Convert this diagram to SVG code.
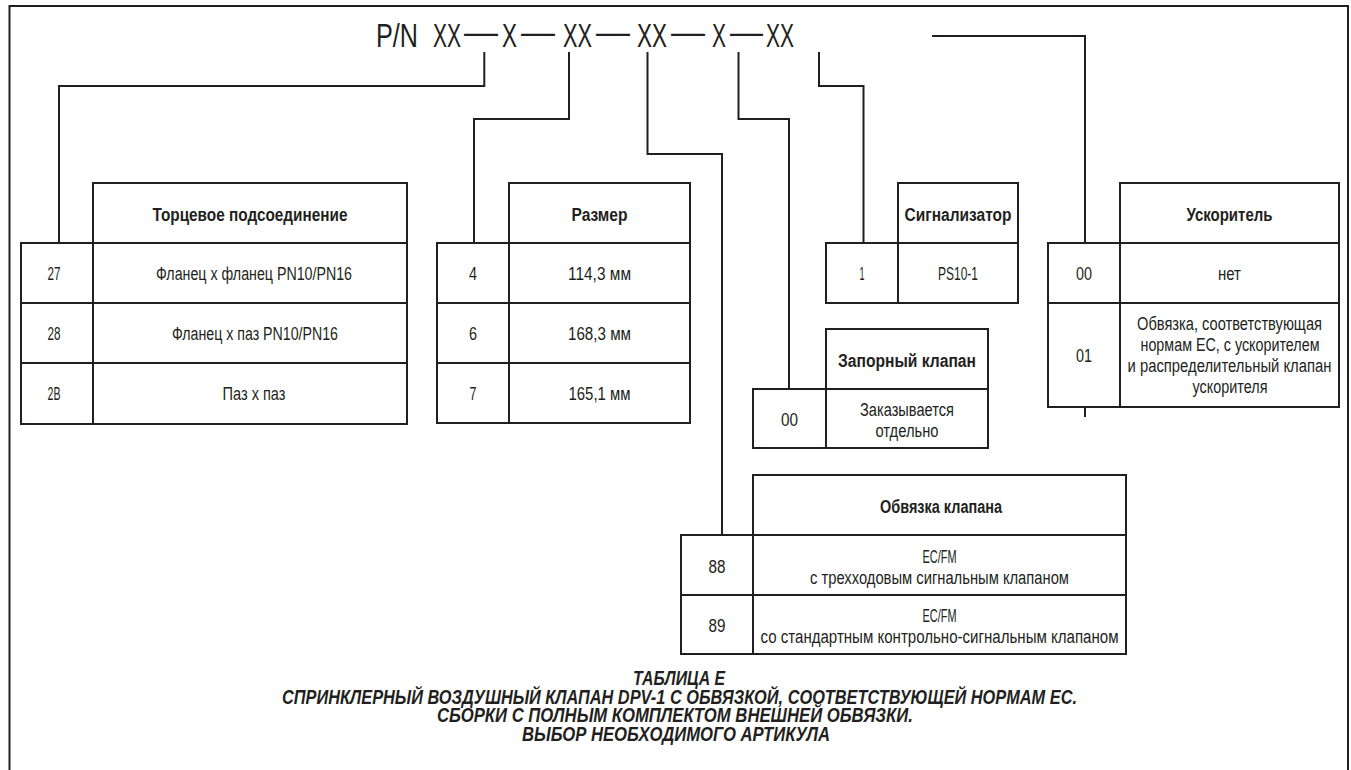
<svg xmlns="http://www.w3.org/2000/svg" width="1351" height="770" viewBox="0 0 1351 770">
<style>
.ln{stroke:#231f20;stroke-width:2;fill:none}
.bx{stroke:#231f20;stroke-width:2;fill:#fff}
.t{font-family:"Liberation Sans",Arial,sans-serif;font-size:18px;fill:#231f20;text-anchor:middle}
.b{font-weight:bold}
.pn{font-family:"Liberation Sans",Arial,sans-serif;font-size:34px;fill:#231f20}
.cap{font-family:"Liberation Sans",Arial,sans-serif;font-size:20px;font-weight:bold;font-style:italic;fill:#231f20;text-anchor:middle}
</style>
<rect x="0" y="0" width="1351" height="770" fill="#fff"/>
<g id="frame">
<path class="ln" d="M9.5,770 V6 H1348 V770"/>
</g>
<g id="partnumber">
<text class="pn" x="376" y="47" textLength="42" lengthAdjust="spacingAndGlyphs">P/N</text>
<text class="pn" x="433" y="47" textLength="28" lengthAdjust="spacingAndGlyphs">XX</text>
<text class="pn" x="464" y="43" textLength="34" lengthAdjust="spacingAndGlyphs">—</text>
<text class="pn" x="502" y="47" textLength="15" lengthAdjust="spacingAndGlyphs">X</text>
<text class="pn" x="521" y="43" textLength="34" lengthAdjust="spacingAndGlyphs">—</text>
<text class="pn" x="563" y="47" textLength="29" lengthAdjust="spacingAndGlyphs">XX</text>
<text class="pn" x="596" y="43" textLength="34" lengthAdjust="spacingAndGlyphs">—</text>
<text class="pn" x="637" y="47" textLength="30" lengthAdjust="spacingAndGlyphs">XX</text>
<text class="pn" x="671" y="43" textLength="34" lengthAdjust="spacingAndGlyphs">—</text>
<text class="pn" x="712" y="47" textLength="14" lengthAdjust="spacingAndGlyphs">X</text>
<text class="pn" x="730" y="43" textLength="33" lengthAdjust="spacingAndGlyphs">—</text>
<text class="pn" x="766" y="47" textLength="28" lengthAdjust="spacingAndGlyphs">XX</text>
</g>
<g id="connectors">
<path class="ln" d="M484.3,52 V86 H59 V243"/>
<path class="ln" d="M569,52 V119 H474 V243"/>
<path class="ln" d="M647.5,52 V154 H722 V535"/>
<path class="ln" d="M738.5,52 V119 H789 V389"/>
<path class="ln" d="M819,52 V86 H863.5 V243"/>
<path class="ln" d="M932,36 H1085 V243"/>
<path class="ln" d="M1085,407 V417"/>
</g>
<g id="table-end-connection">
<rect class="bx" x="93" y="183" width="314" height="60"/>
<rect class="bx" x="21" y="243" width="386" height="181"/>
<path class="ln" d="M93,243 V424 M21,303 H407 M21,363 H407"/>
<text class="t b" x="250" y="221" textLength="195" lengthAdjust="spacingAndGlyphs">Торцевое подсоединение</text>
<text class="t" x="54" y="280" textLength="13" lengthAdjust="spacingAndGlyphs">27</text>
<text class="t" x="254" y="280" textLength="196" lengthAdjust="spacingAndGlyphs">Фланец х фланец PN10/PN16</text>
<text class="t" x="54" y="340" textLength="13" lengthAdjust="spacingAndGlyphs">28</text>
<text class="t" x="255" y="340" textLength="166" lengthAdjust="spacingAndGlyphs">Фланец х паз PN10/PN16</text>
<text class="t" x="54" y="400" textLength="13" lengthAdjust="spacingAndGlyphs">2B</text>
<text class="t" x="254" y="400" textLength="63" lengthAdjust="spacingAndGlyphs">Паз х паз</text>
</g>
<g id="table-size">
<rect class="bx" x="509" y="183" width="181" height="60"/>
<rect class="bx" x="437" y="243" width="253" height="180"/>
<path class="ln" d="M509,243 V423 M437,303 H690 M437,363 H690"/>
<text class="t b" x="599.5" y="221" textLength="56" lengthAdjust="spacingAndGlyphs">Размер</text>
<text class="t" x="473" y="280" textLength="8" lengthAdjust="spacingAndGlyphs">4</text>
<text class="t" x="599.5" y="280" textLength="63" lengthAdjust="spacingAndGlyphs">114,3 мм</text>
<text class="t" x="473" y="340" textLength="8" lengthAdjust="spacingAndGlyphs">6</text>
<text class="t" x="599.5" y="340" textLength="63" lengthAdjust="spacingAndGlyphs">168,3 мм</text>
<text class="t" x="473" y="400" textLength="7" lengthAdjust="spacingAndGlyphs">7</text>
<text class="t" x="599.5" y="400" textLength="62" lengthAdjust="spacingAndGlyphs">165,1 мм</text>
</g>
<g id="table-alarm">
<rect class="bx" x="898" y="183" width="120" height="60"/>
<rect class="bx" x="826" y="243" width="192" height="60"/>
<path class="ln" d="M898,243 V303"/>
<text class="t b" x="958" y="221" textLength="107" lengthAdjust="spacingAndGlyphs">Сигнализатор</text>
<text class="t" x="862" y="280" textLength="5" lengthAdjust="spacingAndGlyphs">1</text>
<text class="t" x="958" y="280" textLength="40" lengthAdjust="spacingAndGlyphs">PS10-1</text>
</g>
<g id="table-shutoff">
<rect class="bx" x="826" y="329" width="162" height="60"/>
<rect class="bx" x="753" y="389" width="235" height="59"/>
<path class="ln" d="M826,389 V448"/>
<text class="t b" x="907" y="367" textLength="138" lengthAdjust="spacingAndGlyphs">Запорный клапан</text>
<text class="t" x="789.5" y="426" textLength="17" lengthAdjust="spacingAndGlyphs">00</text>
<text class="t" x="907" y="416" textLength="94" lengthAdjust="spacingAndGlyphs">Заказывается</text>
<text class="t" x="907" y="437" textLength="63" lengthAdjust="spacingAndGlyphs">отдельно</text>
</g>
<g id="table-accelerator">
<rect class="bx" x="1120" y="183" width="219" height="60"/>
<rect class="bx" x="1048" y="243" width="291" height="164"/>
<path class="ln" d="M1120,243 V407 M1048,303 H1339"/>
<text class="t b" x="1229.5" y="221" textLength="86" lengthAdjust="spacingAndGlyphs">Ускоритель</text>
<text class="t" x="1084" y="280" textLength="16" lengthAdjust="spacingAndGlyphs">00</text>
<text class="t" x="1229.5" y="280" textLength="23" lengthAdjust="spacingAndGlyphs">нет</text>
<text class="t" x="1084" y="362" textLength="16" lengthAdjust="spacingAndGlyphs">01</text>
<text class="t" x="1229.5" y="330" textLength="185" lengthAdjust="spacingAndGlyphs">Обвязка, соответствующая</text>
<text class="t" x="1230" y="351" textLength="179" lengthAdjust="spacingAndGlyphs">нормам ЕС, с ускорителем</text>
<text class="t" x="1229.5" y="372" textLength="204" lengthAdjust="spacingAndGlyphs">и распределительный клапан</text>
<text class="t" x="1230" y="393" textLength="75" lengthAdjust="spacingAndGlyphs">ускорителя</text>
</g>
<g id="table-trim">
<rect class="bx" x="753" y="475" width="373" height="60"/>
<rect class="bx" x="681" y="535" width="445" height="119"/>
<path class="ln" d="M753,535 V654 M681,595 H1126"/>
<text class="t b" x="941" y="513" textLength="122" lengthAdjust="spacingAndGlyphs">Обвязка клапана</text>
<text class="t" x="717" y="573" textLength="17" lengthAdjust="spacingAndGlyphs">88</text>
<text class="t" x="939.5" y="563" textLength="34" lengthAdjust="spacingAndGlyphs">EC/FM</text>
<text class="t" x="939.5" y="584" textLength="259" lengthAdjust="spacingAndGlyphs">с трехходовым сигнальным клапаном</text>
<text class="t" x="717" y="632" textLength="17" lengthAdjust="spacingAndGlyphs">89</text>
<text class="t" x="939.5" y="622" textLength="34" lengthAdjust="spacingAndGlyphs">EC/FM</text>
<text class="t" x="939.5" y="643" textLength="358" lengthAdjust="spacingAndGlyphs">со стандартным контрольно-сигнальным клапаном</text>
</g>
<g id="caption">
<text class="cap" x="679" y="685" textLength="92" lengthAdjust="spacingAndGlyphs">ТАБЛИЦА Е</text>
<text class="cap" x="679.5" y="704" textLength="795" lengthAdjust="spacingAndGlyphs">СПРИНКЛЕРНЫЙ ВОЗДУШНЫЙ КЛАПАН DPV-1 С ОБВЯЗКОЙ, СООТВЕТСТВУЮЩЕЙ НОРМАМ ЕС.</text>
<text class="cap" x="675" y="722" textLength="476" lengthAdjust="spacingAndGlyphs">СБОРКИ С ПОЛНЫМ КОМПЛЕКТОМ ВНЕШНЕЙ ОБВЯЗКИ.</text>
<text class="cap" x="676" y="741" textLength="308" lengthAdjust="spacingAndGlyphs">ВЫБОР НЕОБХОДИМОГО АРТИКУЛА</text>
</g>
</svg>
